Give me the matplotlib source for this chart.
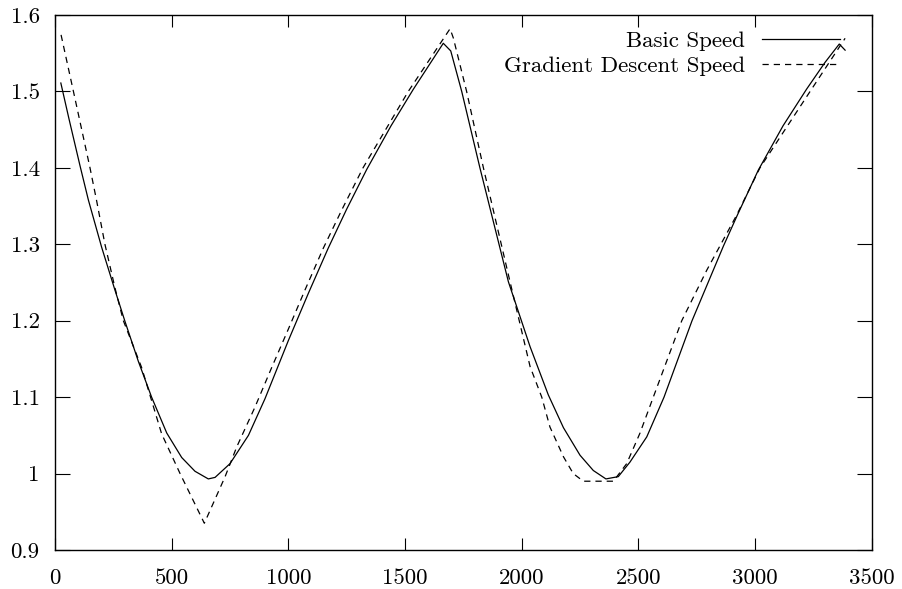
import matplotlib
matplotlib.use("Agg")
import matplotlib.pyplot as plt

# Basic Speed (solid)
basic_x = [25, 60, 107, 143, 200, 257, 300, 357, 414, 479, 543, 600, 657, 686, 750,
           829, 900, 950, 1000, 1086, 1171, 1250, 1336, 1440, 1536, 1600, 1664, 1696,
           1743, 1821, 1943, 2036, 2114, 2179, 2250, 2307, 2361, 2414, 2464, 2536,
           2610, 2730, 2865, 2924, 3014, 3120, 3221, 3300, 3361, 3386]
basic_y = [1.511, 1.464, 1.403, 1.358, 1.296, 1.240, 1.199, 1.147, 1.100, 1.053,
           1.021, 1.003, 0.993, 0.995, 1.013, 1.050, 1.098, 1.136, 1.174, 1.236, 1.295,
           1.346, 1.398, 1.455, 1.503, 1.533, 1.563, 1.553, 1.500, 1.400, 1.251, 1.166,
           1.103, 1.060, 1.024, 1.004, 0.993, 0.996, 1.015, 1.048, 1.100, 1.200, 1.298,
           1.338, 1.397, 1.455, 1.503, 1.538, 1.562, 1.554]

# Gradient Descent Speed (dashed)
gd_x = [26, 79, 150, 179, 214, 257, 293, 371, 457, 536, 640, 729, 779, 857, 929, 1000,
        1071, 1150, 1229, 1320, 1514, 1693, 1707, 1764, 1836, 1950, 2036, 2086, 2121,
        2179, 2221, 2264, 2393, 2450, 2507, 2564, 2686, 2793, 2921, 3021, 3236, 3386]
gd_y = [1.574, 1.500, 1.400, 1.356, 1.300, 1.243, 1.200, 1.139, 1.052, 1.000, 0.935,
        0.996, 1.035, 1.087, 1.139, 1.189, 1.240, 1.295, 1.345, 1.400, 1.500, 1.582,
        1.570, 1.500, 1.400, 1.251, 1.140, 1.100, 1.061, 1.022, 1.000, 0.990, 0.990,
        1.013, 1.053, 1.100, 1.200, 1.266, 1.338, 1.400, 1.500, 1.5695]

x_ticks = [0, 500, 1000, 1500, 2000, 2500, 3000, 3500]
x_labels = ["0", "500", "1000", "1500", "2000", "2500", "3000", "3500"]
y_ticks = [0.9, 1.0, 1.1, 1.2, 1.3, 1.4, 1.5, 1.6]
y_labels = ["0.9", "1", "1.1", "1.2", "1.3", "1.4", "1.5", "1.6"]

plt.rcParams["font.family"] = ["cmr10", "DejaVu Serif"]
plt.rcParams["font.size"] = 16.5

fig = plt.figure(figsize=(9.02, 5.89), dpi=100)
ax = fig.add_axes([55 / 902, 1 - 550 / 589, 816.7 / 902, 535 / 589])

ax.plot(basic_x, basic_y, color="black", linewidth=0.9, label="Basic Speed")
ax.plot(gd_x, gd_y, color="black", linewidth=0.9, linestyle=(0, (5, 4)),
        label="Gradient Descent Speed")

ax.set_xlim(0, 3500)
ax.set_ylim(0.9, 1.6)
ax.set_xticks(x_ticks)
ax.set_xticklabels(x_labels)
ax.set_yticks(y_ticks)
ax.set_yticklabels(y_labels)
ax.tick_params(axis="x", direction="in", top=True, bottom=True, length=8.5,
               width=0.8, pad=13, labelsize=16.5)
ax.tick_params(axis="y", direction="in", left=True, right=True, length=10.8,
               width=0.8, pad=11, labelsize=16.5)
for sp in ax.spines.values():
    sp.set_linewidth(1.0)

leg = ax.legend(loc="upper right", bbox_to_anchor=(840 / 902, 1 - 31 / 589),
                bbox_transform=fig.transFigure, frameon=False, markerfirst=False,
                handlelength=3.4, handletextpad=0.75, labelspacing=0.22,
                borderpad=0, borderaxespad=0, fontsize=16.5)

fig.savefig("out.png", dpi=100)
